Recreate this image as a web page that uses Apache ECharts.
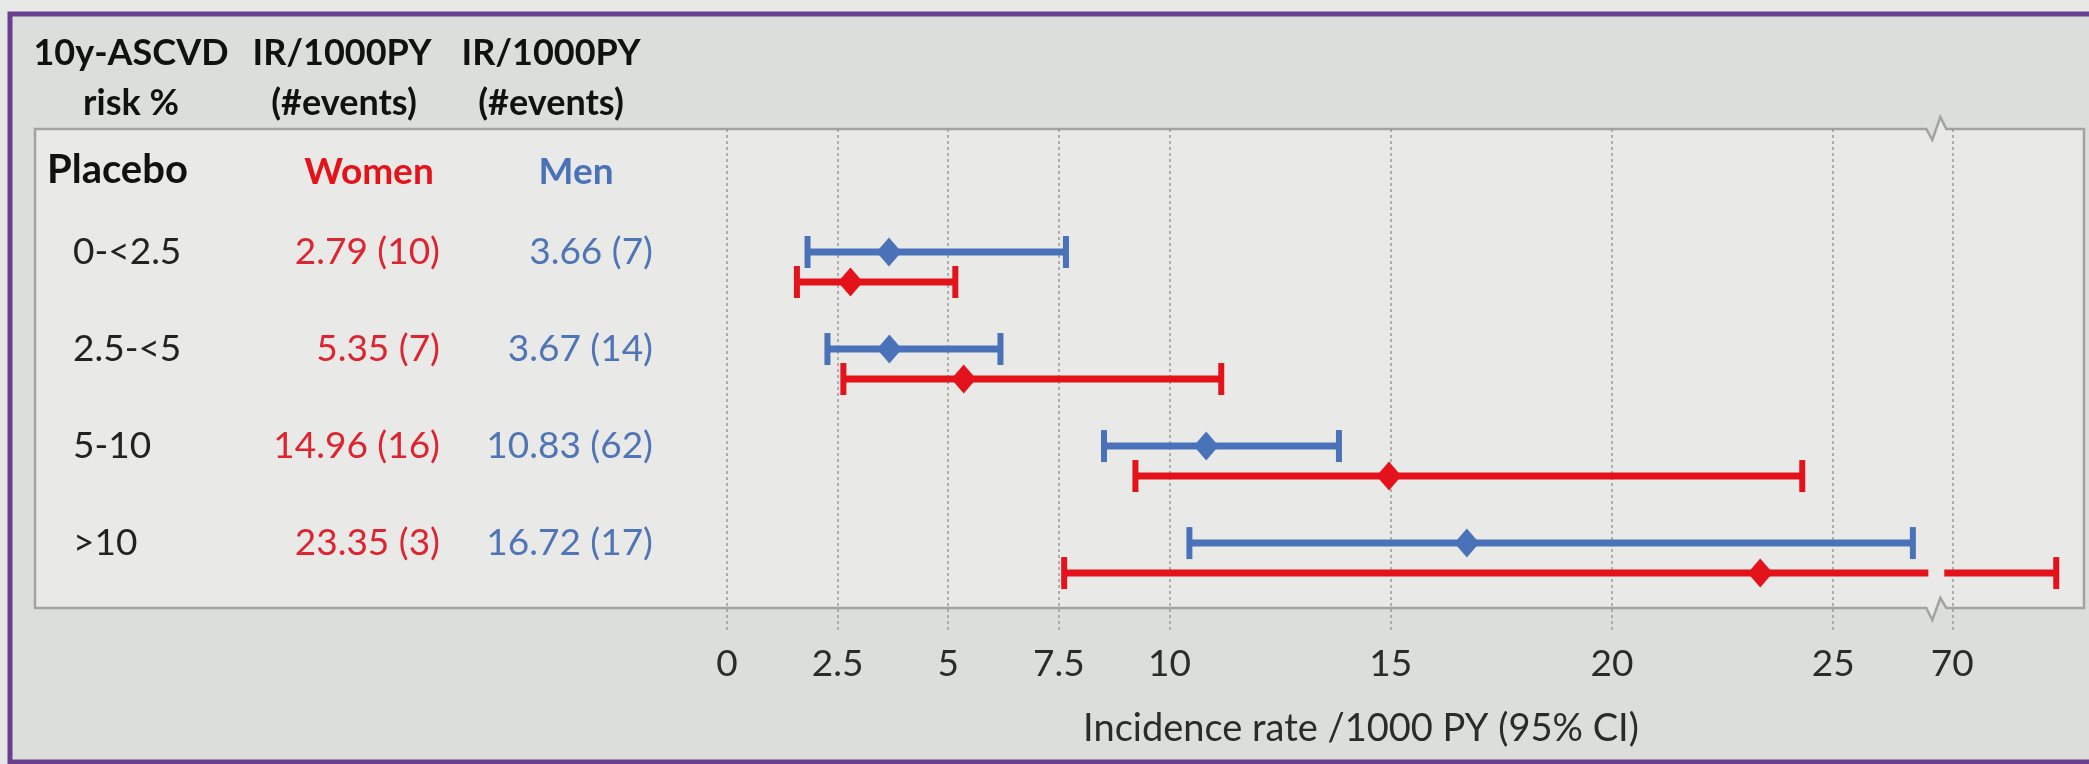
<!DOCTYPE html>
<html>
<head>
<meta charset="utf-8">
<script src="https://cdn.jsdelivr.net/npm/echarts@6.0.0/dist/echarts.min.js"></script>
<style>
  html, body { margin: 0; padding: 0; background: #e6e8e5; }
  #chart { width: 2089px; height: 764px; }
</style>
</head>
<body>
<div id="chart"></div>
<script>
// risk groups (placebo arm)
const rows = ['0-<2.5', '2.5-<5', '5-10', '>10'];
const womenIR = [2.79, 5.35, 14.96, 23.35];
const womenEvents = [10, 7, 16, 3];
const womenLow = [1.58, 2.63, 9.23, 7.62];
const womenHigh = [5.16, 11.17, 24.3, 72.35];
const menIR = [3.66, 3.67, 10.83, 16.72];
const menEvents = [7, 14, 62, 17];
const menLow = [1.82, 2.27, 8.52, 10.45];
const menHigh = [7.66, 6.18, 13.83, 26.8];
const tickValues = [0, 2.5, 5, 7.5, 10, 15, 20, 25, 70];
const axisBreak = { start: 27.15, end: 69.82 };

const RED = '#e3121b';
const BLUE = '#4a72b9';
const RED_TXT = '#dc2530';
const BLUE_TXT = '#5075b6';
const FONT = 'Lato';

const chart = echarts.init(document.getElementById('chart'));

function errorBar(offsetY, color) {
    return function (params, api) {
        const row = api.value(0);
        const lo = api.coord([api.value(1), row]);
        const hi = api.coord([api.value(2), row]);
        const y = lo[1] + offsetY;
        const capH = 16;
        const segs = [];
        // cut the line where it crosses the axis break
        if (api.value(1) < axisBreak.start && api.value(2) > axisBreak.end) {
            const b1 = api.coord([axisBreak.start, row])[0];
            const b2 = api.coord([axisBreak.end, row])[0];
            segs.push([lo[0], b1], [b2, hi[0]]);
        } else {
            segs.push([lo[0], hi[0]]);
        }
        const children = segs.map(s => ({
            type: 'line',
            shape: { x1: s[0], y1: y, x2: s[1], y2: y },
            style: { stroke: color, lineWidth: 7 }
        }));
        [lo[0], hi[0]].forEach(x => children.push({
            type: 'line',
            shape: { x1: x, y1: y - capH, x2: x, y2: y + capH },
            style: { stroke: color, lineWidth: 6 }
        }));
        return { type: 'group', children: children };
    };
}

const textStyle = (txt, x, y, size, color, bold, align) => ({
    type: 'text', x: x, y: y, z: 5,
    style: {
        text: txt, fill: color, font: (bold ? 'bold ' : '') + size + 'px ' + FONT,
        textAlign: align || 'center', textVerticalAlign: 'middle'
    }
});

const option = {
    animation: false,
    grid: { left: 727, right: 4, top: 129, bottom: 134 },
    xAxis: {
        type: 'value',
        min: 0,
        max: 73,
        breaks: [{ start: axisBreak.start, end: axisBreak.end, gap: 0.36 }],
        breakArea: { show: false },
        axisLine: { show: false },
        axisTick: { show: false, customValues: tickValues },
        axisLabel: {
            customValues: tickValues,
            fontFamily: FONT, fontSize: 37, lineHeight: 40, color: '#2b2b2b', margin: 14
        },
        splitLine: { show: true, lineStyle: { type: [3, 3], color: '#9a9a9a', width: 1.5 } },
        name: 'Incidence rate /1000 PY (95% CI)',
        nameLocation: 'middle',
        nameGap: 80,
        nameTextStyle: { fontFamily: FONT, fontSize: 38, color: '#2b2b2b', padding: [0, 90, 0, 0] }
    },
    yAxis: {
        type: 'value',
        inverse: true,
        min: -1.268,
        max: 3.896,
        axisLine: { show: false },
        axisTick: { show: false },
        splitLine: { show: false },
        axisLabel: {
            customValues: [0, 1, 2, 3],
            margin: 74,
            formatter: v => `{r|${rows[v]}}{w|${womenIR[v].toFixed(2)} (${womenEvents[v]})}{m|${menIR[v].toFixed(2)} (${menEvents[v]})}`,
            rich: {
                r: { width: 167, align: 'left', fontFamily: FONT, fontSize: 37, color: '#222' },
                w: { width: 200, align: 'right', fontFamily: FONT, fontSize: 37, color: RED_TXT },
                m: { width: 213, align: 'right', fontFamily: FONT, fontSize: 37, color: BLUE_TXT }
            }
        }
    },
    series: [
        {
            name: 'Men CI', type: 'custom', z: 3,
            renderItem: errorBar(0, BLUE),
            encode: { x: [1, 2], y: 0 },
            data: rows.map((r, i) => [i, menLow[i], menHigh[i]])
        },
        {
            name: 'Women CI', type: 'custom', z: 3,
            renderItem: errorBar(30, RED),
            encode: { x: [1, 2], y: 0 },
            data: rows.map((r, i) => [i, womenLow[i], womenHigh[i]])
        },
        {
            name: 'Men', type: 'scatter', z: 4,
            symbol: 'diamond', symbolSize: [25, 29],
            itemStyle: { color: BLUE, opacity: 1 },
            data: rows.map((r, i) => [menIR[i], i])
        },
        {
            name: 'Women', type: 'scatter', z: 4,
            symbol: 'diamond', symbolSize: [25, 29], symbolOffset: [0, 30],
            itemStyle: { color: RED, opacity: 1 },
            data: rows.map((r, i) => [womenIR[i], i])
        }
    ]
};
chart.setOption(option);

// frame, table box with break zigzags, and column headers
const xb = (chart.convertToPixel({ xAxisIndex: 0 }, axisBreak.start) +
            chart.convertToPixel({ xAxisIndex: 0 }, axisBreak.end)) / 2;
const bx0 = 35, bx1 = 2084, by0 = 129, by1 = 608;
const boxPts = [
    [bx0, by0], [xb - 10, by0], [xb - 4, by0 + 11], [xb + 4, by0 - 12], [xb + 10, by0], [bx1, by0],
    [bx1, by1], [xb + 10, by1], [xb + 4, by1 - 10], [xb - 4, by1 + 12], [xb - 10, by1], [bx0, by1]
];
chart.setOption({
    graphic: [
        { type: 'rect', z: -20, shape: { x: 10, y: 14, width: 2100, height: 748 },
          style: { fill: '#dcdedb', stroke: '#6b3f8f', lineWidth: 5 } },
        { type: 'polygon', z: -10, shape: { points: boxPts },
          style: { fill: '#e9eae7', stroke: '#a3a3a3', lineWidth: 2.5 } },
        textStyle('10y-ASCVD', 131, 53, 36, '#111', true),
        textStyle('risk %', 131, 103, 36, '#111', true),
        textStyle('IR/1000PY', 342, 53, 36, '#111', true),
        textStyle('(#events)', 344, 103, 36, '#111', true),
        textStyle('IR/1000PY', 551, 53, 36, '#111', true),
        textStyle('(#events)', 551, 103, 36, '#111', true),
        textStyle('Placebo', 47, 170, 40, '#111', true, 'left'),
        textStyle('Women', 369, 172, 37, '#e3121b', true),
        textStyle('Men', 576, 172, 37, '#4a72b9', true)
    ]
});
window.addEventListener('resize', () => chart.resize());
</script>
</body>
</html>
